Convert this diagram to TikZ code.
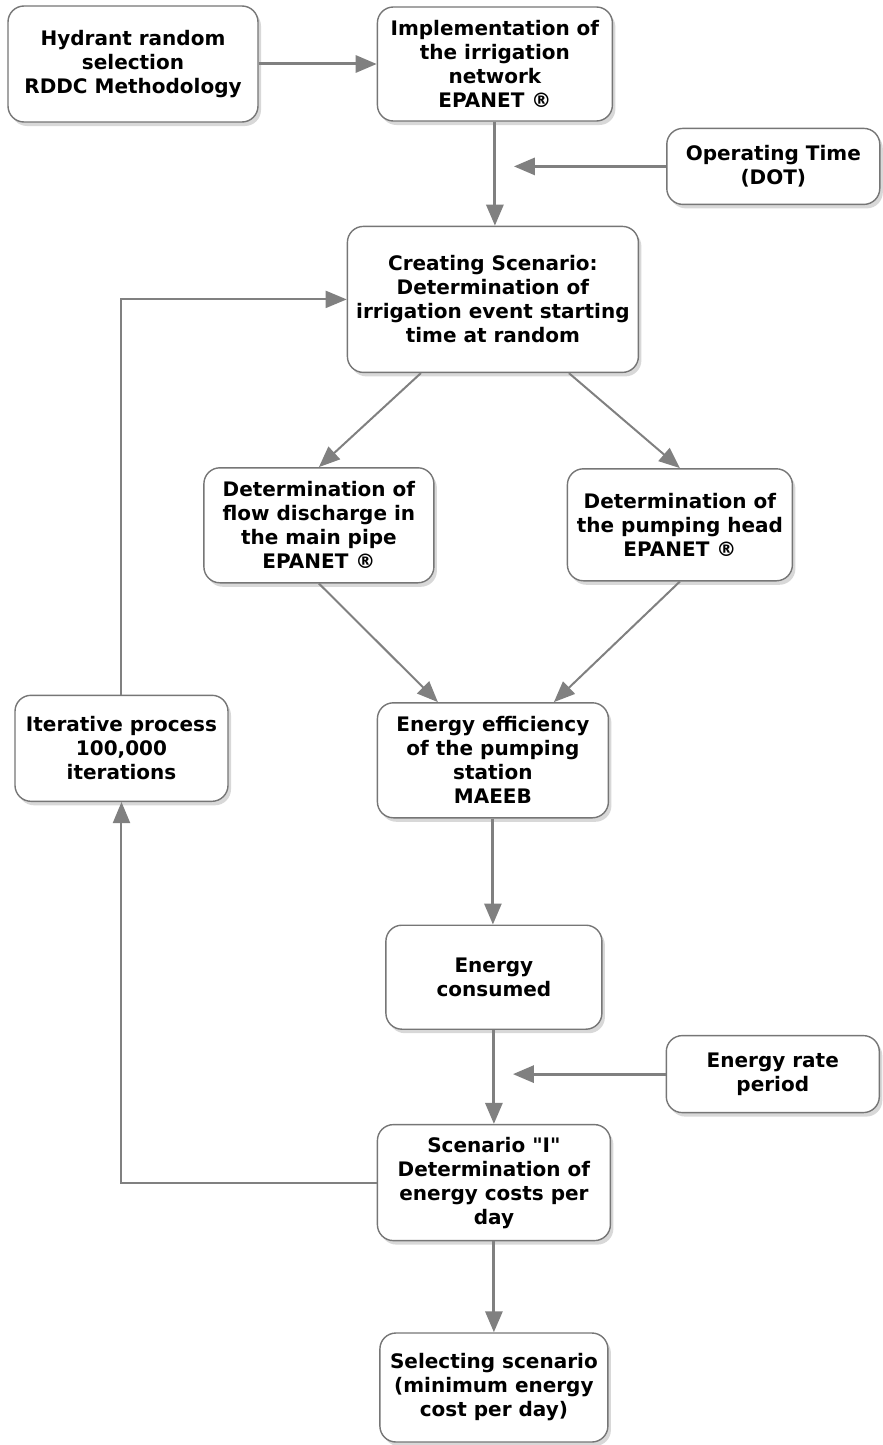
\documentclass[tikz,border=0pt]{standalone}
\usepackage{fontspec}
\setmainfont{DejaVu Sans}
\usetikzlibrary{positioning,arrows.meta,shadows,calc}
\definecolor{edge}{RGB}{128,128,128}
\definecolor{frame}{RGB}{118,118,118}

\begin{document}
\begin{tikzpicture}[
    block/.style={draw=frame, line width=1.4pt, rounded corners=16pt, fill=white, align=center, inner sep=3pt,
        font=\fontsize{20}{24}\selectfont\bfseries,
        drop shadow={shadow xshift=3pt, shadow yshift=-4pt, fill=black!30}},
    arrow/.style={-{Triangle[length=21pt,width=17pt]}, line width=3pt, draw=edge},
    loop/.style={-{Triangle[length=21pt,width=17pt]}, line width=2pt, draw=edge},
    node distance=1.0cm
]
    \useasboundingbox (-133pt,64pt) rectangle (750pt,-1381pt);

    % Inputs
    \node[block, minimum width=250pt, minimum height=116pt] (hyd) {Hydrant random\\selection\\RDDC Methodology};
    \node[block, minimum width=235pt, minimum height=114pt, right=118pt of hyd] (impl) {Implementation of\\the irrigation\\network\\EPANET ®};
    \node[block, minimum width=213pt, minimum height=76pt, below right=6pt and 53pt of impl.south east] (dot) {Operating Time\\(DOT)};

    % Scenario
    \node[block, minimum width=291pt, minimum height=146pt, below=104pt of impl, xshift=-2pt] (creat) {Creating Scenario:\\Determination of\\irrigation event starting\\time at random};
    \node[block, minimum width=230pt, minimum height=115pt, below=94pt of creat, xshift=-174pt] (flow) {Determination of\\flow discharge in\\the main pipe\\EPANET ®};
    \node[block, minimum width=225pt, minimum height=112pt, below=95pt of creat, xshift=187pt] (pump) {Determination of\\the pumping head\\EPANET ®};

    % Energy
    \node[block, minimum width=231pt, minimum height=115pt, below=329pt of creat] (eff) {Energy efficiency\\of the pumping\\station\\MAEEB};
    \node[block, minimum width=213pt, minimum height=106pt, left=148pt of eff, yshift=12pt] (iter) {Iterative process\\100,000\\iterations};
    \node[block, minimum width=216pt, minimum height=104pt, below=106pt of eff, xshift=1pt] (cons) {Energy\\consumed};
    \node[block, minimum width=213pt, minimum height=77pt, below right=5pt and 63pt of cons.south east] (rate) {Energy rate\\period};

    % Output
    \node[block, minimum width=233pt, minimum height=116pt, below=94pt of cons] (scen) {Scenario \textquotedbl I\textquotedbl\\Determination of\\energy costs per\\day};
    \node[block, minimum width=228pt, minimum height=109pt, below=91pt of scen] (sel) {Selecting scenario\\(minimum energy\\cost per day)};

    \coordinate (dotin) at ([xshift=19pt]impl.south |- dot.west);
    \coordinate (ratein) at ([xshift=19pt]cons.south |- rate.west);

    % Arrows
    \draw[arrow] (hyd.east) -- (impl.west |- hyd.east);
    \draw[arrow] (impl) -- (impl |- creat.north);
    \draw[arrow] (dot.west) -- (dotin);
    \draw[loop] ([xshift=-72pt]creat.south) -- (flow.north);
    \draw[loop] ([xshift=76pt]creat.south) -- (pump.north);
    \draw[loop] (flow.south) -- ([xshift=-55pt]eff.north);
    \draw[loop] (pump.south) -- ([xshift=61pt]eff.north);
    \draw[arrow] (eff) -- (eff |- cons.north);
    \draw[arrow] (cons) -- (scen);
    \draw[arrow] (rate.west) -- (ratein);
    \draw[arrow] (scen) -- (sel);
    \draw[loop] (scen.west) -| (iter.south);
    \draw[loop] (iter.north) |- (creat.west);
\end{tikzpicture}
\end{document}
